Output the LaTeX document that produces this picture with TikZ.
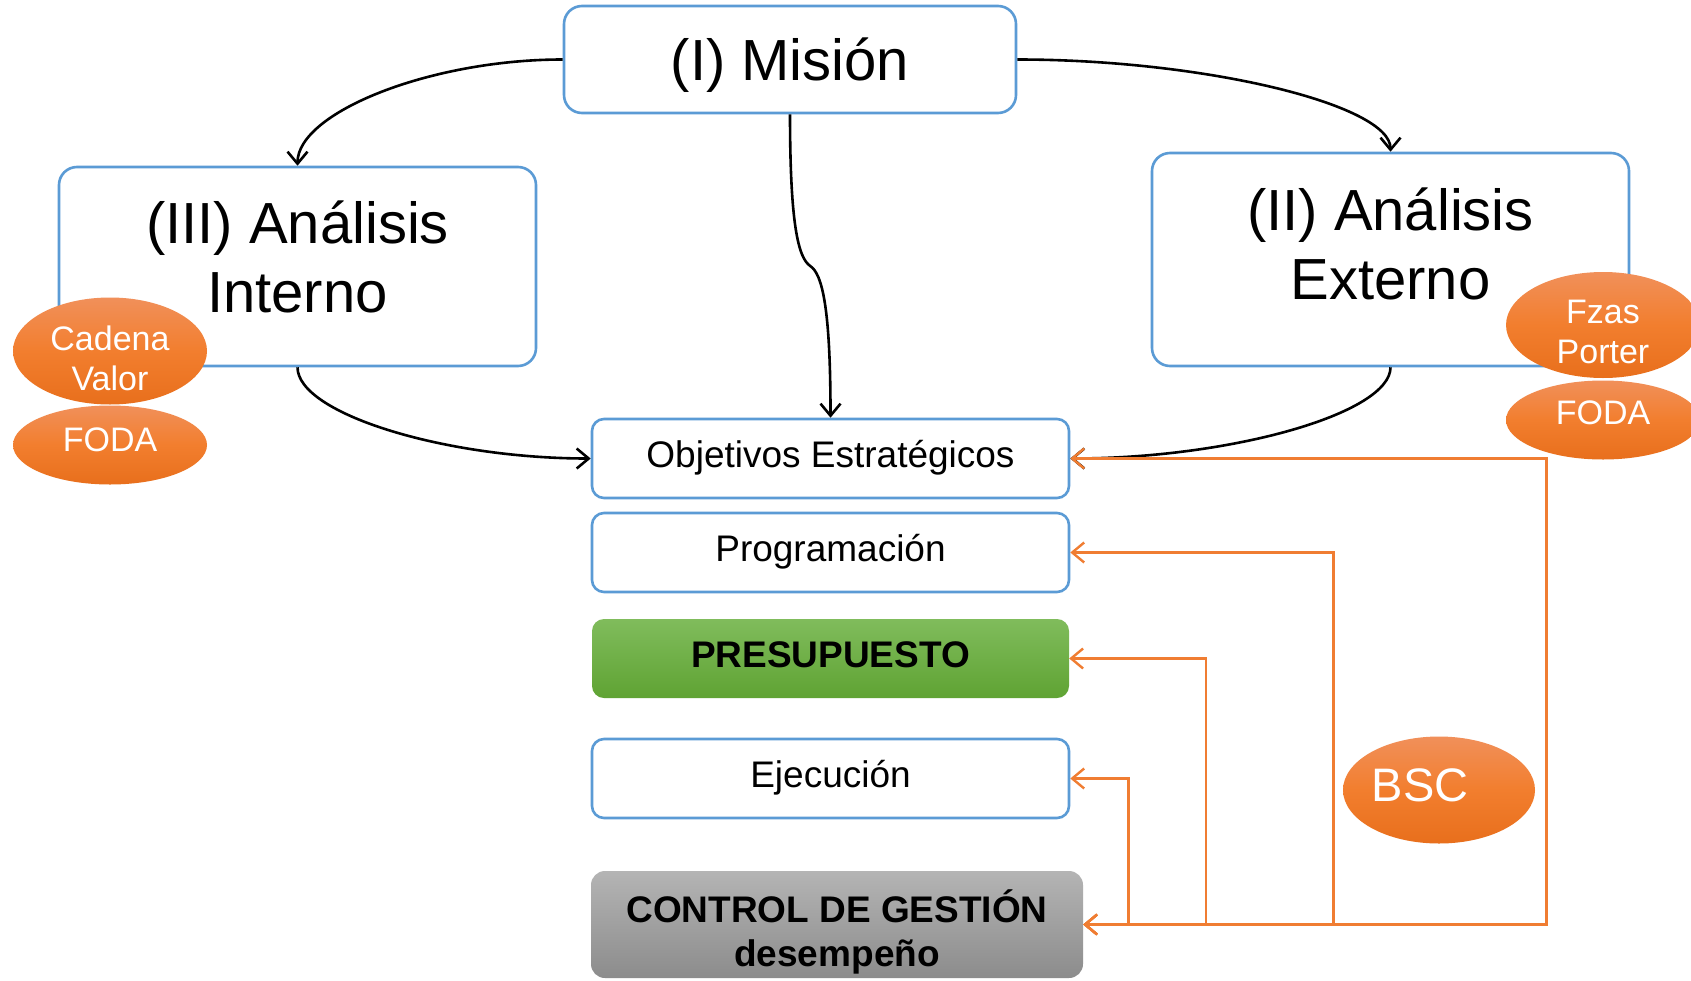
\documentclass[tikz,border=0pt]{standalone}
\usepackage{fontspec}
\setmainfont{Liberation Sans}
\usetikzlibrary{arrows.meta,calc,shapes.geometric}
\definecolor{bblue}{HTML}{5B9BD5}
\definecolor{gTop}{HTML}{80BC5C}
\definecolor{gBot}{HTML}{5FA333}
\definecolor{grTop}{HTML}{B4B4B4}
\definecolor{grBot}{HTML}{8C8C8C}
\definecolor{oTop}{HTML}{F1905A}
\definecolor{oMid}{HTML}{F27E2E}
\definecolor{oBot}{HTML}{E86F1C}
\definecolor{oLine}{HTML}{F07D32}
\begin{document}
\begin{tikzpicture}[x=1pt,y=-1pt,
  bigbox/.style={draw=bblue,line width=2.6pt,rounded corners=18pt,fill=white,inner sep=0pt},
  bigtxt/.style={font=\fontsize{58}{69}\selectfont,align=center,inner sep=0pt},
  smallbox/.style={draw=bblue,line width=2.6pt,rounded corners=12pt,fill=white,inner sep=0pt,minimum width=477pt,minimum height=79pt,font=\fontsize{37}{44}\selectfont,text height=27pt,text depth=8.5pt},
  greenbox/.style={rounded corners=12pt,top color=gTop,bottom color=gBot,draw=none,inner sep=0pt,minimum width=477pt,minimum height=79pt,font=\bfseries\fontsize{37}{44}\selectfont,text height=27pt,text depth=8.5pt},
  graybox/.style={rounded corners=14pt,top color=grTop,bottom color=grBot,draw=none,inner sep=0pt,minimum width=492pt,minimum height=107pt},
  graytxt/.style={font=\bfseries\fontsize{37}{44}\selectfont,align=center,inner sep=0pt},
  oell/.style={ellipse,draw=none,top color=oTop,bottom color=oBot,middle color=oMid,inner sep=0pt},
  otxt/.style={text=white,font=\fontsize{34}{40}\selectfont,align=center,inner sep=0pt},
  conn/.style={line width=2.6pt,draw=black,-{Straight Barb[length=12pt,width=20pt]}},
  oconn/.style={line width=2.4pt,draw=oLine,{Straight Barb[length=12pt,width=20pt]}-{Straight Barb[length=12pt,width=20pt]}},
]
\useasboundingbox (0,0) rectangle (1691,980);
\fill[white] (0,0) rectangle (1691,980);

% big boxes
\node[bigbox,minimum width=452pt,minimum height=107pt,font=\fontsize{58}{69}\selectfont,text height=42pt,text depth=0pt] (mision) at (790,59.5) {(I) Misión};
\node[bigbox,minimum width=477pt,minimum height=199pt] (interno) at (297.5,266.5) {};
\node[bigtxt] (internotxt) at (297.5,257) {(III) Análisis\\Interno};
\node[bigbox,minimum width=477pt,minimum height=213pt] (externo) at (1390.5,259.5) {};
\node[bigtxt] (externotxt) at (1390.5,244) {(II) Análisis\\Externo};

% small boxes
\node[smallbox] (obj) at (830.5,458.5) {Objetivos Estratégicos};
\node[smallbox] (prog) at (830.5,552.5) {Programación};
\node[greenbox] (pres) at (830.5,658.5) {PRESUPUESTO};
\node[smallbox] (ejec) at (830.5,778.5) {Ejecución};
\node[graybox] (control) at (837,924.5) {};
\node[graytxt] (controltxt) at (837,932) {CONTROL DE GESTIÓN\\desempeño};

% black connectors
\draw[conn] (mision.west) .. controls +(-133,0) and +(0,-53) .. (interno.north);
\draw[conn] (mision.east) .. controls +(187,0) and +(0,-47) .. (externo.north);
\coordinate (mid) at ($(mision.south)!0.5!(obj.north)$);
\draw[conn] (mision.south) .. controls +(0,110) and +(-12,-8) .. (mid) .. controls +(12,8) and +(0,-110) .. (obj.north);
\draw[conn] (interno.south) .. controls +(0,46) and +(-147,0) .. (obj.west);
\draw[conn] (externo.south) .. controls +(0,46) and +(161,0) .. (obj.east);

% orange connectors
\draw[oconn] (control.east) -| ($(obj.east)+(476,0)$) -- (obj.east);
\draw[oconn] (control.east) -| ($(prog.east)+(263,0)$) -- (prog.east);
\draw[oconn] (control.east) -| ($(pres.east)+(137,0)$) -- (pres.east);
\draw[oconn] (control.east) -| ($(ejec.east)+(58,0)$) -- (ejec.east);

% ellipses
\node[oell,minimum width=194pt,minimum height=107pt] (cadena) at (110,351) {};
\node[otxt] (cadenatxt) at (110,358) {Cadena\\Valor};
\node[oell,minimum width=194pt,minimum height=79pt] (fodaL) at (110,445) {};
\node[otxt] (fodaLtxt) at (110,440) {FODA};
\node[oell,minimum width=194pt,minimum height=106pt] (fzas) at (1603,325) {};
\node[otxt] (fzastxt) at (1603,332) {Fzas\\Porter};
\node[oell,minimum width=194pt,minimum height=79pt] (fodaR) at (1603,420) {};
\node[otxt] (fodaRtxt) at (1603,413) {FODA};
\node[oell,minimum width=192pt,minimum height=107pt] (bsc) at (1439,790) {};
\node[otxt,font=\fontsize{47}{54}\selectfont] (bsctxt) at (1420,785) {BSC};
\end{tikzpicture}
\end{document}
